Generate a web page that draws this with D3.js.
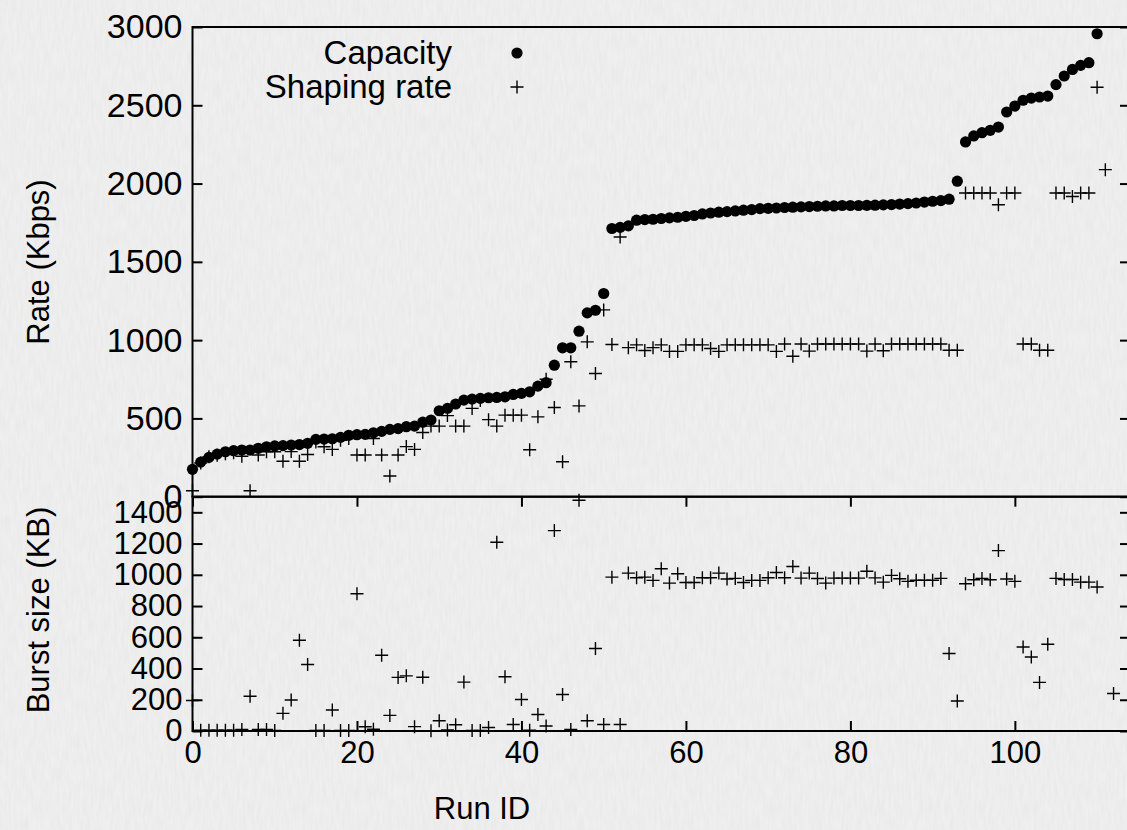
<!DOCTYPE html>
<html><head><meta charset="utf-8">
<script src="https://cdn.jsdelivr.net/npm/d3@7"></script>
<style>
html,body{margin:0;padding:0;background:#eeeeee;}
svg{display:block;}
text{font-family:"Liberation Sans",Arial,Helvetica,sans-serif;fill:#000;}
</style></head><body>
<svg id="chart" width="1127" height="830"></svg>
<script>
// Capacity (Kbps) per run id 0..110
const capacity = [175,221,251,272,287,294,298,298,309,319,324,326,330,333,341,366,368,370,379,392,
  396,398,408,417,430,435,447,451,476,490,549,564,592,617,623,628,632,634,638,653,
  660,670,706,728,840,951,951,1057,1174,1191,1298,1713,1720,1730,1766,1770,1772,1777,1781,1785,
  1791,1796,1806,1812,1817,1821,1825,1830,1834,1840,1842,1844,1847,1849,1851,1853,1855,1857,1857,1860,
  1860,1860,1861,1862,1864,1866,1869,1872,1876,1882,1887,1891,1900,2015,2266,2304,2325,2340,2361,2457,
  2495,2532,2546,2553,2559,2632,2687,2729,2755,2772,2957];
// Shaping rate (Kbps) per run id 0..111
const shapingRate = [38,215,255,265,275,280,258,38,266,287,287,226,288,226,270,350,319,302,360,372,
  266,266,372,266,132,266,320,302,410,451,451,518,451,451,564,615,492,451,521,521,
  521,300,510,750,570,223,862,580,989,787,1193,972,1659,952,970,934,952,970,928,928,
  970,970,970,947,928,970,970,970,970,970,970,928,975,897,975,930,975,975,975,975,
  975,975,930,975,932,975,975,975,975,975,975,975,935,935,1940,1940,1940,1940,1865,1940,
  1940,975,975,935,935,1940,1940,1917,1940,1940,2615,2089];
// Burst size (KB) per run id 0..112
const burstSize = [195,5,5,5,5,5,10,222,10,10,3,113,198,581,426,3,3,134,3,3,
  879,27,11,485,100,343,353,28,344,2,66,6,40,313,4,4,22,1208,347,42,
  202,5,106,32,1283,234,10,1477,66,528,42,985,42,1011,981,985,964,1039,947,1007,
  951,951,981,981,1011,973,977,951,964,964,981,1015,981,1053,979,1011,976,947,979,979,
  979,979,1023,980,953,996,975,958,965,965,965,977,496,192,943,968,977,968,1155,973,
  958,538,474,311,555,977,970,970,953,953,922,null,240];

const xTicks = [0,20,40,60,80,100];
const rateTicks = [0,500,1000,1500,2000,2500,3000];
const burstTicks = [0,200,400,600,800,1000,1200,1400];
const legendLabels = ["Capacity","Shaping rate"];
const xTitle = "Run ID", rateTitle = "Rate (Kbps)", burstTitle = "Burst size (KB)";

const FS = 31, FS_TOP = 34, FS_LEG = 33;
const R = 5.6;
const svg = d3.select('#chart');

// subtle paper-like texture
const defs = svg.append('defs');
const flt = defs.append('filter').attr('id','tex').attr('x',0).attr('y',0).attr('width','100%').attr('height','100%');
flt.append('feTurbulence').attr('type','fractalNoise').attr('baseFrequency','0.35 0.06').attr('numOctaves',2).attr('seed',3).attr('result','n');
flt.append('feColorMatrix').attr('in','n').attr('type','matrix')
  .attr('values','0 0 0 0 0.55  0 0 0 0 0.55  0 0 0 0 0.55  0 0 0 0.22 -0.06');
svg.append('rect').attr('width',1127).attr('height',830).attr('fill','#efefef');
svg.append('rect').attr('width',1127).attr('height',830).attr('filter','url(#tex)');

const x = d3.scaleLinear().domain([0,114]).range([192.5,1130]);
const yTop = d3.scaleLinear().domain([0,3000]).range([496.7,27]);
const yBot = d3.scaleLinear().domain([0,1500]).range([731,496.7]);

const plusPath = "M-6.5,0H6.5M0,-6.5V6.5";

function styleAxis(fs){
  return g => {
    g.select('.domain').remove();
    g.selectAll('.tick line').attr('stroke','#000').attr('stroke-width',2);
    g.selectAll('.tick text').attr('font-size',fs).attr('font-family','"Liberation Sans",Arial,sans-serif').attr('fill','#000');
  };
}

// Top panel axes
svg.append('g').attr('transform','translate(192.5,0)')
  .call(d3.axisLeft(yTop).tickValues(rateTicks).tickSize(-10).tickPadding(10).tickFormat(d3.format('d')))
  .call(styleAxis(FS_TOP));
svg.append('g').attr('transform','translate(1130,0)')
  .call(d3.axisRight(yTop).tickValues(rateTicks).tickSize(-10).tickFormat(''))
  .call(styleAxis(FS));
// Bottom panel axes
svg.append('g').attr('transform','translate(192.5,0)')
  .call(d3.axisLeft(yBot).tickValues(burstTicks).tickSize(-10).tickPadding(10).tickFormat(d3.format('d')))
  .call(styleAxis(FS));
svg.append('g').attr('transform','translate(1130,0)')
  .call(d3.axisRight(yBot).tickValues(burstTicks).tickSize(-10).tickFormat(''))
  .call(styleAxis(FS));
svg.append('g').attr('transform','translate(0,731)')
  .call(d3.axisBottom(x).tickValues(xTicks).tickSize(-10).tickPadding(10))
  .call(styleAxis(FS));
svg.append('g').attr('transform','translate(0,496.7)')
  .call(d3.axisTop(x).tickValues(xTicks).tickSize(-10).tickFormat(''))
  .call(styleAxis(FS));

// Borders
svg.append('rect').attr('x',x(0)).attr('y',yTop(3000)).attr('width',x(114)-x(0)).attr('height',yTop(0)-yTop(3000))
  .attr('fill','none').attr('stroke','#000').attr('stroke-width',2);
svg.append('rect').attr('x',x(0)).attr('y',yBot(1500)).attr('width',x(114)-x(0)).attr('height',yBot(0)-yBot(1500))
  .attr('fill','none').attr('stroke','#000').attr('stroke-width',2);

// Data marks
svg.append('g').selectAll('path').data(shapingRate.map((v,i)=>({i,v})).filter(d=>d.v!=null))
  .join('path').attr('d',plusPath).attr('transform',d=>`translate(${x(d.i)},${yTop(d.v)})`)
  .attr('stroke','#000').attr('stroke-width',1.4).attr('fill','none');
svg.append('g').selectAll('circle').data(capacity.map((v,i)=>({i,v})))
  .join('circle').attr('cx',d=>x(d.i)).attr('cy',d=>yTop(d.v)).attr('r',R).attr('fill','#000');
svg.append('g').selectAll('path').data(burstSize.map((v,i)=>({i,v})).filter(d=>d.v!=null))
  .join('path').attr('d',plusPath).attr('transform',d=>`translate(${x(d.i)},${yBot(d.v)})`)
  .attr('stroke','#000').attr('stroke-width',1.4).attr('fill','none');

// Legend
svg.append('text').attr('x',452).attr('y',64).attr('text-anchor','end').attr('font-size',FS_LEG).text(legendLabels[0]);
svg.append('circle').attr('cx',517).attr('cy',53).attr('r',R).attr('fill','#000');
svg.append('text').attr('x',452).attr('y',98).attr('text-anchor','end').attr('font-size',FS_LEG).text(legendLabels[1]);
svg.append('path').attr('d',plusPath).attr('transform','translate(517,87)').attr('stroke','#000').attr('stroke-width',1.4);

// Titles
svg.append('text').attr('transform','translate(38,262) rotate(-90)').attr('dy','0.35em').attr('text-anchor','middle').attr('font-size',FS).text(rateTitle);
svg.append('text').attr('transform','translate(38,610) rotate(-90)').attr('dy','0.35em').attr('text-anchor','middle').attr('font-size',FS).text(burstTitle);
svg.append('text').attr('x',482).attr('y',819).attr('text-anchor','middle').attr('font-size',FS).text(xTitle);
</script>
</body></html>
